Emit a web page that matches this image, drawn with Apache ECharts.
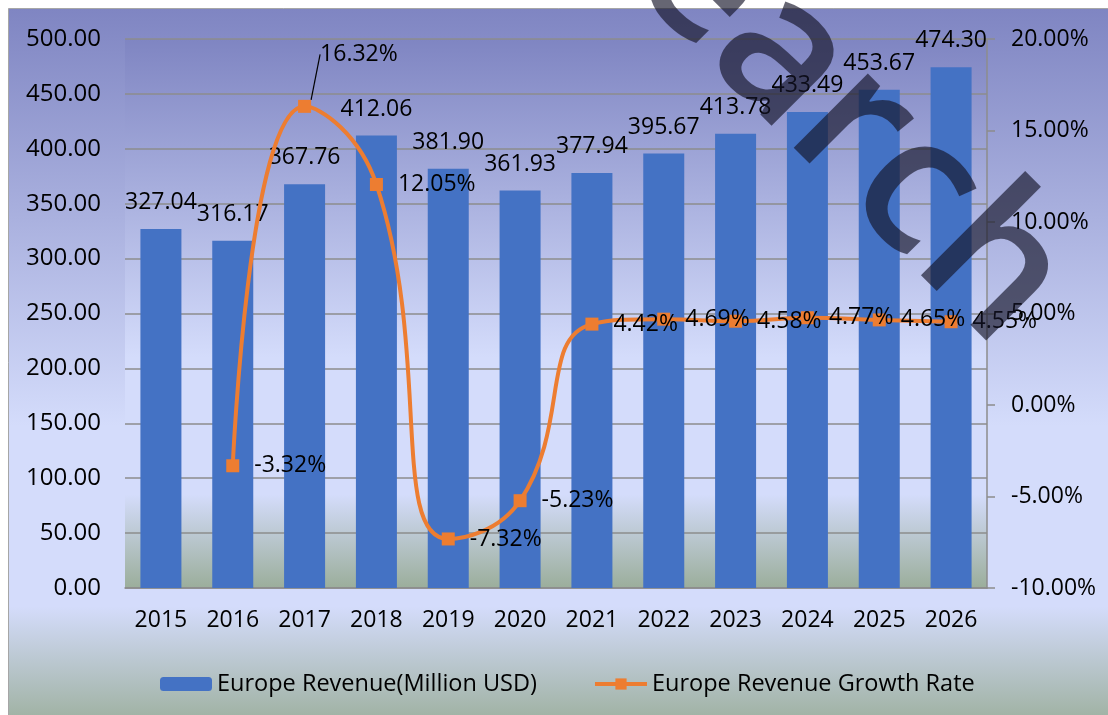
<!DOCTYPE html>
<html>
<head>
<meta charset="utf-8">
<script src="https://cdn.jsdelivr.net/npm/echarts@6/dist/echarts.min.js"></script>
<style>
  html, body { margin: 0; padding: 0; background: #fff; }
  #chart { width: 1108px; height: 715px; }
</style>
</head>
<body>
<div id="chart"></div>
<script>
// chart data
const years = ['2015', '2016', '2017', '2018', '2019', '2020', '2021', '2022', '2023', '2024', '2025', '2026'];
const revenue = [327.04, 316.17, 367.76, 412.06, 381.90, 361.93, 377.94, 395.67, 413.78, 433.49, 453.67, 474.30];
const growthRate = [null, -3.32, 16.32, 12.05, -7.32, -5.23, 4.42, 4.69, 4.58, 4.77, 4.65, 4.55];
const seriesNames = ['Europe Revenue(Million USD)', 'Europe Revenue Growth Rate'];
const watermark = 'Research';

const FONT = 'Open Sans';

// same gradient look for the outer area and the plot area
const bgGradient = () => new echarts.graphic.LinearGradient(0, 0, 0, 1, [
  { offset: 0, color: '#7f85c2' },
  { offset: 0.58, color: '#d4dcfb' },
  { offset: 0.83, color: '#d4dcfb' },
  { offset: 1, color: '#9bae9b' }
]);

const chart = echarts.init(document.getElementById('chart'), null, { renderer: 'canvas' });

// the peak label sits above its point with a leader line
const peakIndex = growthRate.indexOf(Math.max(...growthRate.filter(v => v !== null)));

const option = {
  backgroundColor: '#ffffff',
  animation: false,
  textStyle: { fontFamily: FONT },
  graphic: [
    {
      type: 'rect',
      z: -10,
      silent: true,
      shape: { x: 8.5, y: 8.5, width: 1110, height: 720 },
      style: { fill: bgGradient(), stroke: '#a6a6a6', lineWidth: 1 }
    },
    {
      type: 'text',
      z: 100,
      silent: true,
      x: 1036,
      y: 312,
      rotation: -Math.PI / 4,
      style: {
        text: watermark,
        font: '600 194px "Open Sans"',
        fill: 'rgba(20,20,40,0.65)',
        align: 'right',
        verticalAlign: 'middle'
      }
    }
  ],
  grid: {
    left: 125,
    right: 121,
    top: 39,
    bottom: 127,
    show: true,
    borderWidth: 0,
    backgroundColor: bgGradient()
  },
  legend: {
    left: 155,
    top: 667,
    itemWidth: 52,
    itemHeight: 14,
    itemGap: 56,
    textStyle: { fontFamily: FONT, fontSize: 23.5, color: '#000' },
    data: [
      { name: seriesNames[0] },
      { name: seriesNames[1], lineStyle: { width: 4 } }
    ]
  },
  xAxis: {
    type: 'category',
    data: years,
    axisLine: { lineStyle: { color: '#8c8c8c', width: 1.5 } },
    axisTick: { show: false },
    axisLabel: { color: '#000', fontSize: 23, fontFamily: FONT, margin: 21 }
  },
  yAxis: [
    {
      type: 'value',
      min: 0,
      max: 500,
      interval: 50,
      axisLine: { show: false },
      axisTick: { show: false },
      axisLabel: {
        color: '#000', fontSize: 24, fontFamily: FONT, margin: 24,
        formatter: v => v.toFixed(2)
      },
      splitLine: { lineStyle: { color: '#8c8c8c', width: 1.5 } }
    },
    {
      type: 'value',
      min: -10,
      max: 20,
      interval: 5,
      position: 'right',
      axisLine: { show: true, lineStyle: { color: '#8c8c8c', width: 1.5 } },
      axisTick: { show: true, length: 8, lineStyle: { color: '#8c8c8c', width: 1.5 } },
      axisLabel: {
        color: '#000', fontSize: 23, fontFamily: FONT, margin: 24,
        formatter: v => v.toFixed(2) + '%'
      },
      splitLine: { show: false }
    }
  ],
  series: [
    {
      name: seriesNames[0],
      type: 'bar',
      barWidth: 41,
      itemStyle: { color: '#4472c4' },
      label: {
        show: true,
        position: 'top',
        distance: 15,
        color: '#000',
        fontSize: 23,
        fontFamily: FONT,
        formatter: p => p.value.toFixed(2)
      },
      data: revenue
    },
    {
      name: seriesNames[1],
      type: 'line',
      yAxisIndex: 1,
      smooth: 0.5,
      symbol: 'rect',
      symbolSize: 13,
      z: 5,
      itemStyle: { color: '#ed7d31' },
      lineStyle: { color: '#ed7d31', width: 4 },
      label: {
        show: true,
        position: 'right',
        distance: 15,
        color: '#000',
        fontSize: 23,
        fontFamily: FONT,
        formatter: p => p.value.toFixed(2) + '%'
      },
      labelLine: { show: false },
      labelLayout: p => (p.dataIndex === peakIndex ? { dx: -6, dy: -52 } : {}),
      data: growthRate.map((v, i) => i === peakIndex
        ? { value: v, labelLine: { show: true, lineStyle: { color: '#000', width: 1.2 } } }
        : v)
    }
  ]
};

chart.setOption(option);
</script>
</body>
</html>
